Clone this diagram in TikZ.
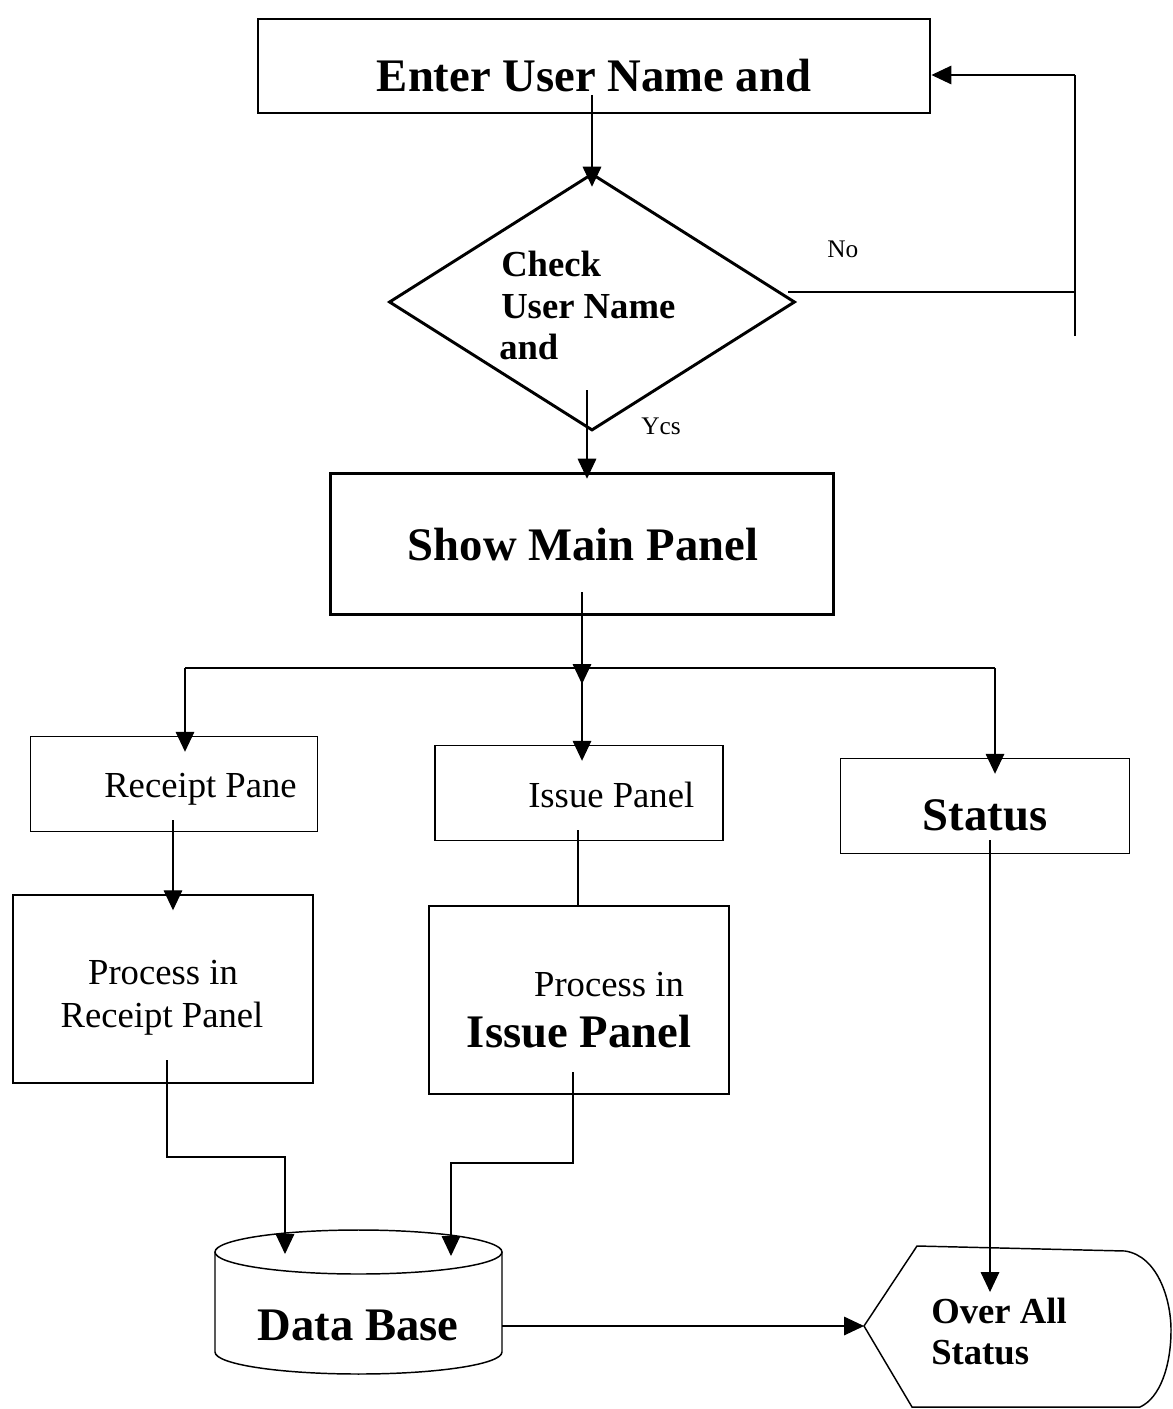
\documentclass[tikz,border=0pt]{standalone}
\usepackage{fontspec}
\setmainfont{Liberation Serif}
\usepackage{tikz}
\usetikzlibrary{shapes.geometric,arrows.meta}

\begin{document}
\begin{tikzpicture}[x=0.75pt,y=0.75pt,yscale=-1,xscale=1,
    thickbox/.style={draw, line width=2.2pt, inner sep=0pt},
    thinbox/.style={draw, line width=1.1pt, inner sep=0pt},
    outline/.style={line width=1.1pt},
    conn/.style={line width=0.8pt},
    arr/.style={line width=0.8pt, -{Triangle[length=15pt,width=14pt]}},
    bigtxt/.style={inner sep=0.75pt, font=\bfseries\fontsize{35}{40}\selectfont},
    midtxt/.style={inner sep=0.75pt, font=\fontsize{27.5}{31}\selectfont},
    midbold/.style={inner sep=0.75pt, font=\bfseries\fontsize{27.5}{31}\selectfont},
    smalltxt/.style={inner sep=0.75pt, font=\fontsize{19}{22}\selectfont}]
    \useasboundingbox (0,0) rectangle (1173,1409);

    %Shape: Rectangle (login)
    \node [thickbox, minimum width=504pt, minimum height=70.5pt] (enter) at (594,66) {};
    %Shape: Diamond
    \node [thickbox, diamond, minimum width=304.5pt, minimum height=192.75pt] (check) at (592,302) {};
    %Shape: Rectangle (main panel)
    \node [thickbox, minimum width=377.25pt, minimum height=105.75pt] (main) at (582,544) {};
    %Shape: Rectangle x3 (panels)
    \node [thinbox, minimum width=215.25pt, minimum height=71.25pt] (receipt) at (174,784) {};
    \node [thinbox, minimum width=216pt, minimum height=71.25pt] (issue) at (579,793) {};
    \node [thinbox, minimum width=216.75pt, minimum height=71.25pt] (status) at (985,806) {};
    %Shape: Rectangle x2 (processes)
    \node [thinbox, minimum width=225pt, minimum height=141pt] (procr) at (163,989) {};
    \node [thinbox, minimum width=225pt, minimum height=141pt] (proci) at (579,1000) {};
    %Shape: Can (data base)
    \draw [outline] (358.5,1252) ellipse [x radius=143.5, y radius=22];
    \draw [outline] (215,1252) -- (215,1352) arc [start angle=180, end angle=0, x radius=143.5, y radius=22] -- (502,1252);
    \node [minimum width=215.25pt, minimum height=75pt] (db) at (358.5,1302) {};
    %Shape: Display (over all status)
    \coordinate (overW) at (864,1326);
    \draw [outline] (overW) -- (917,1246) -- (1125,1251) .. controls (1158,1256) and (1171,1300) .. (1171,1330) .. controls (1171,1366) and (1160,1398) .. (1140,1407) -- (912,1407) -- cycle;

    %Straight Lines
    \coordinate (enterS) at (592,95);
    \draw [arr] (enterS) -- ([yshift=11pt]check.north);
    \coordinate (noS) at (788,292);
    \coordinate (loopT) at (1075,75);
    \coordinate (loopB) at (1075,336);
    \draw [conn] (noS) -- (noS -| loopT);
    \draw [conn] (loopB) -- (loopT);
    \draw [arr] (loopT) -- (loopT -| enter.east);
    \coordinate (yesS) at (587,390);
    \draw [arr] (yesS) -- ([yshift=5pt]yesS |- main.north);
    \coordinate (mainS) at (582,592);
    \coordinate (fork) at (582,668);
    \coordinate (forkL) at (185,668);
    \coordinate (forkR) at (995,668);
    \draw [arr] (mainS) -- ([yshift=12pt]fork);
    \draw [conn] (forkL) -- (forkR);
    \draw [arr] (forkL) -- ([yshift=12pt]forkL |- receipt.north);
    \draw [arr] (fork) -- ([yshift=12pt]fork |- issue.north);
    \draw [arr] (forkR) -- ([yshift=12pt]forkR |- status.north);
    \coordinate (receiptS) at (173,820);
    \draw [arr] (receiptS) -- ([yshift=12pt]receiptS |- procr.north);
    \coordinate (issueS) at (578,830);
    \draw [conn] (issueS) -- (issueS |- proci.north);
    \coordinate (procrS) at (167,1060);
    \coordinate (dbL) at (285,1254);
    \draw [arr] (procrS) -- ++(0,97) -| (dbL);
    \coordinate (prociS) at (573,1072);
    \coordinate (dbR) at (451,1256);
    \draw [arr] (prociS) -- ++(0,91) -| (dbR);
    \draw [arr] (db.east |- overW) -- (overW);
    \coordinate (statusS) at (990,840);
    \coordinate (overN) at (990,1292);
    \draw [arr] (statusS) -- (overN);

    % Text Node
    \draw (594,92) node [bigtxt, anchor=base] (entertxt) {Enter User Name and};
    % Text Node
    \draw (500,276) node [midbold, anchor=base west] (checka) {Check};
    \draw (500,318) node [midbold, anchor=base west] (checkb) {User Name};
    \draw (498,359) node [midbold, anchor=base west] (checkc) {and};
    % Text Node
    \draw (826,257) node [smalltxt, anchor=base west] (notxt) {No};
    % Text Node
    \draw (640,434) node [smalltxt, anchor=base west] (yestxt) {Ycs};
    % Text Node
    \draw (583,560) node [bigtxt, anchor=base] (maintxt) {Show Main Panel};
    % Text Node
    \draw (103,797) node [midtxt, anchor=base west] (receipttxt) {Receipt Pane};
    % Text Node
    \draw (527,807) node [midtxt, anchor=base west] (issuetxt) {Issue Panel};
    % Text Node
    \draw (985,830) node [bigtxt, anchor=base] (statustxt) {Status};
    % Text Node
    \draw (163,984) node [midtxt, anchor=base] (procra) {Process in};
    \draw (162,1027) node [midtxt, anchor=base] (procrb) {Receipt Panel};
    % Text Node
    \draw (609,996) node [midtxt, anchor=base] (procia) {Process in};
    \draw (579,1047) node [bigtxt, anchor=base] (procib) {Issue Panel};
    % Text Node
    \draw (358,1340) node [bigtxt, anchor=base] (dbtxt) {Data Base};
    % Text Node
    \draw (930,1323) node [midbold, anchor=base west] (overa) {Over All};
    \draw (930,1364) node [midbold, anchor=base west] (overb) {Status};

\end{tikzpicture}
\end{document}
